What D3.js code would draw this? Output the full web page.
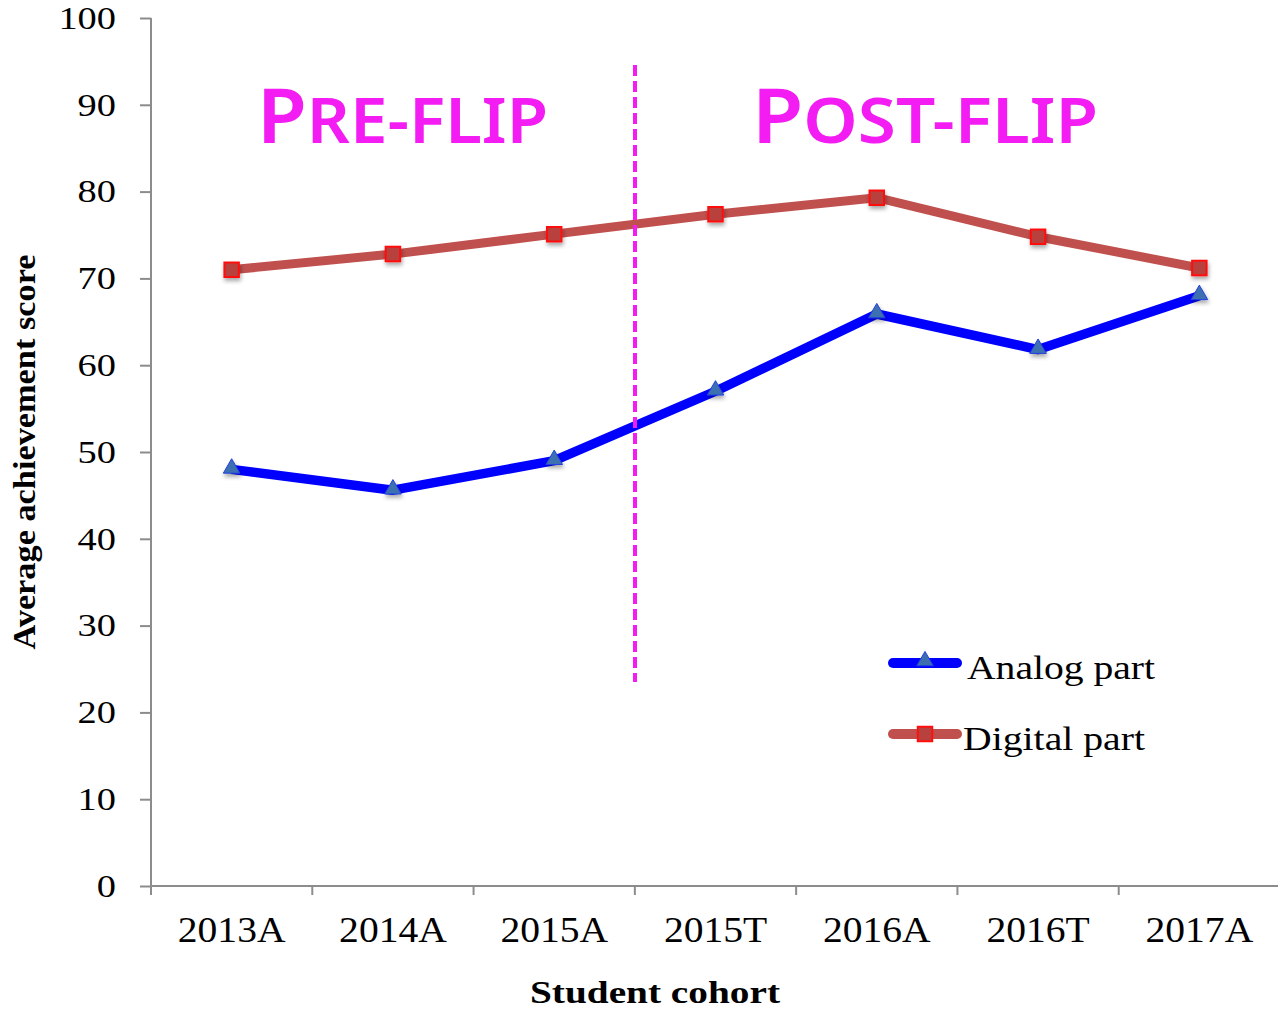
<!DOCTYPE html>
<html>
<head>
<meta charset="utf-8">
<script src="https://cdn.jsdelivr.net/npm/d3@7"></script>
<style>
  body { margin: 0; background: #fff; }
  svg { display: block; }
  .serif { font-family: "Liberation Serif", "Times New Roman", serif; fill: #000; }
  .flip { font-family: "Comic Sans MS", "Noto Sans", sans-serif; fill: #f31cf3; }
</style>
</head>
<body>
<svg id="chart" width="1278" height="1016"></svg>
<script>
// data
var cohorts = ['2013A', '2014A', '2015A', '2015T', '2016A', '2016T', '2017A'];
var analog  = [48.0, 45.6, 49.0, 57.0, 65.9, 61.8, 68.0];
var digital = [71.0, 72.8, 75.1, 77.4, 79.3, 74.8, 71.2];
var yTicks  = [0, 10, 20, 30, 40, 50, 60, 70, 80, 90, 100];

var svg = d3.select('#chart');
var stretch = 1.13;                       // the reference fonts look horizontally widened

function widen(sel, k) {
  sel.each(function() {
    var w = this.getComputedTextLength();
    d3.select(this).attr('textLength', w * (k || stretch)).attr('lengthAdjust', 'spacingAndGlyphs');
  });
}

var x = d3.scaleBand().domain(cohorts).range([151, 1280]);
var y = d3.scaleLinear().domain([0, 100]).range([886, 18]);
var cx = function(d, i) { return x(cohorts[i]) + x.bandwidth() / 2; };

// soft shadow for the markers
var defs = svg.append('defs');
var sh = defs.append('filter').attr('id', 'shadow').attr('x', '-50%').attr('y', '-50%').attr('width', '200%').attr('height', '200%');
sh.append('feDropShadow').attr('dx', 1).attr('dy', 3).attr('stdDeviation', 2).attr('flood-color', '#000').attr('flood-opacity', 0.35);

// axes ///////////////////////////////////////////////////////////////////////////////////////////
var axisColor = '#8c8c8c';
var yAxis = svg.append('g').attr('transform', 'translate(151,0)')
  .call(d3.axisLeft(y).tickValues(yTicks).tickSize(11).tickPadding(0).tickFormat(d3.format('d')));
yAxis.select('.domain').attr('d', 'M0,' + y(100) + 'V' + y(0));
yAxis.selectAll('line, path').attr('stroke', axisColor).attr('stroke-width', 2);
yAxis.selectAll('text').attr('class', 'serif').attr('x', -35).attr('dy', '0.32em')
  .style('font-size', '32px').attr('fill', '#000');
yAxis.attr('font-family', null);
widen(yAxis.selectAll('text'), 1.2);

var xAxis = svg.append('g').attr('transform', 'translate(0,' + y(0) + ')')
  .call(d3.axisBottom(x).tickSize(0).tickPadding(0));
xAxis.select('.domain').attr('d', 'M151,0H1280');
xAxis.selectAll('line, path').attr('stroke', axisColor).attr('stroke-width', 2);
xAxis.selectAll('text').attr('class', 'serif').attr('y', 56).attr('dy', null)
  .style('font-size', '35px').attr('fill', '#000');
widen(xAxis.selectAll('text'));
xAxis.append('g').selectAll('line').data(d3.range(cohorts.length + 1)).enter().append('line')
  .attr('x1', function(i) { return 151 + i * x.step(); }).attr('x2', function(i) { return 151 + i * x.step(); })
  .attr('y1', 0).attr('y2', 9).attr('stroke', axisColor).attr('stroke-width', 2);

// axis titles
var yt = svg.append('text').attr('class', 'serif').attr('font-weight', 'bold').style('font-size', '31px')
  .attr('text-anchor', 'middle').attr('transform', 'translate(35,452) rotate(-90)').text('Average achievement score');
yt.attr('textLength', 395).attr('lengthAdjust', 'spacingAndGlyphs');
var xt = svg.append('text').attr('class', 'serif').attr('font-weight', 'bold').style('font-size', '31px')
  .attr('text-anchor', 'middle').attr('x', 655).attr('y', 1003).text('Student cohort');
xt.attr('textLength', 250).attr('lengthAdjust', 'spacingAndGlyphs');

// lines and markers //////////////////////////////////////////////////////////////////////////////
var line = d3.line().x(cx).y(function(d) { return y(d); });
var red = '#c0504d', blue = '#0000ff';

svg.append('path').datum(digital).attr('d', line).attr('fill', 'none')
  .attr('stroke', red).attr('stroke-width', 9).attr('stroke-linejoin', 'round');
svg.append('path').datum(analog).attr('d', line).attr('fill', 'none')
  .attr('stroke', blue).attr('stroke-width', 9.5).attr('stroke-linejoin', 'round');

var square = d3.symbol().type(d3.symbolSquare).size(210);
var tri = d3.symbol().type(d3.symbolTriangle).size(120);

function squares(g, data) {
  g.selectAll('path').data(data).enter().append('path')
    .attr('d', square).attr('transform', function(d, i) { return 'translate(' + cx(d, i) + ',' + y(d) + ')'; })
    .attr('fill', '#b8403d').attr('stroke', '#ff1010').attr('stroke-width', 2).attr('filter', 'url(#shadow)');
}
function triangles(g, data) {
  g.selectAll('path').data(data).enter().append('path')
    .attr('d', tri).attr('transform', function(d, i) { return 'translate(' + cx(d, i) + ',' + (y(d) - 1) + ')'; })
    .attr('fill', '#3d6fb0').attr('stroke', '#2040e0').attr('stroke-width', 1).attr('filter', 'url(#shadow)');
}
squares(svg.append('g'), digital);
triangles(svg.append('g'), analog);

// flip divider and labels ////////////////////////////////////////////////////////////////////////
svg.append('line').attr('x1', 635).attr('x2', 635).attr('y1', 65).attr('y2', 682)
  .attr('stroke', '#f31cf3').attr('stroke-width', 4).attr('stroke-dasharray', '11,5');

function flipLabel(xp, first, rest, width) {
  var t = svg.append('text').attr('class', 'flip').attr('x', xp).attr('y', 143).style('font-weight', 600);
  t.append('tspan').style('font-size', '76px').text(first);
  t.append('tspan').style('font-size', '63px').text(rest);
  t.attr('textLength', width).attr('lengthAdjust', 'spacingAndGlyphs');
}
flipLabel(257, 'P', 'RE-FLIP', 291);
flipLabel(752, 'P', 'OST-FLIP', 346);

// legend /////////////////////////////////////////////////////////////////////////////////////////
var legend = [
  { name: 'Analog part', color: blue, y: 663, tx: 967, width: 188, marker: 'tri' },
  { name: 'Digital part', color: red, y: 734, tx: 963, width: 182, marker: 'square' }
];
legend.forEach(function(l) {
  svg.append('line').attr('x1', 893).attr('x2', 957).attr('y1', l.y).attr('y2', l.y)
    .attr('stroke', l.color).attr('stroke-width', 10).attr('stroke-linecap', 'round');
  var isTri = l.marker === 'tri';
  svg.append('path').attr('d', isTri ? tri : square).attr('transform', 'translate(925,' + (l.y - (isTri ? 2 : 0)) + ')')
    .attr('fill', isTri ? '#3d6fb0' : '#b8403d')
    .attr('stroke', isTri ? '#2040e0' : '#ff1010').attr('stroke-width', isTri ? 1 : 2);
  svg.append('text').attr('class', 'serif').style('font-size', '33px')
    .attr('x', l.tx).attr('y', l.y + 16).text(l.name)
    .attr('textLength', l.width).attr('lengthAdjust', 'spacingAndGlyphs');
});
</script>
</body>
</html>
